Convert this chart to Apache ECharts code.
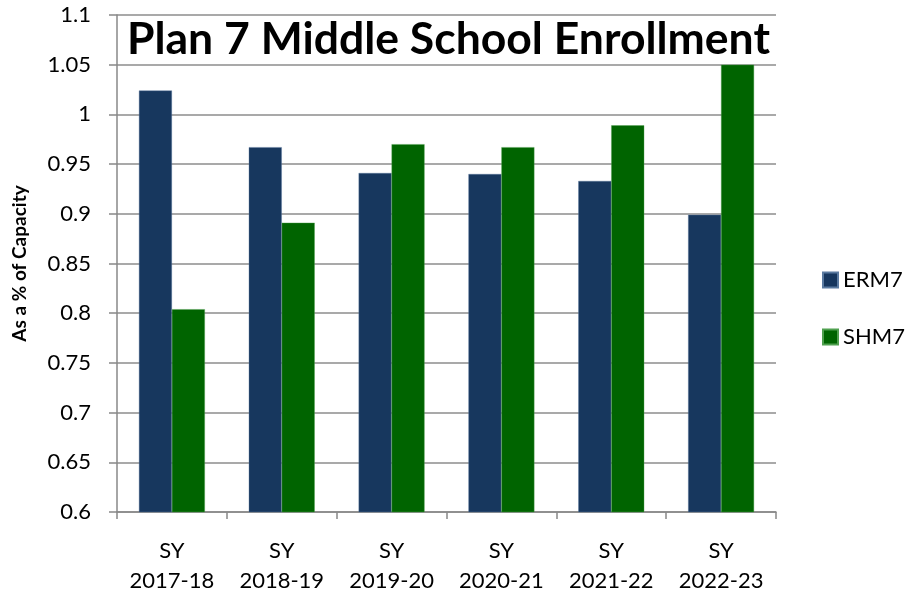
<!DOCTYPE html>
<html><head><meta charset="utf-8">
<script src="https://cdn.jsdelivr.net/npm/echarts@6/dist/echarts.min.js"></script>
<style>html,body{margin:0;padding:0;background:#fff}#c{width:906px;height:596px}</style>
</head><body><div id="c"></div>
<script>
const categories = ['SY\n2017-18','SY\n2018-19','SY\n2019-20','SY\n2020-21','SY\n2021-22','SY\n2022-23'];
const erm7 = [1.024, 0.967, 0.941, 0.940, 0.933, 0.899];
const shm7 = [0.804, 0.891, 0.970, 0.967, 0.989, 1.050];
const yTicks = { min: 0.6, max: 1.1, step: 0.05 };

const FONT = 'Lato, "Open Sans", sans-serif';
const chart = echarts.init(document.getElementById('c'));
chart.setOption({
  animation: false,
  backgroundColor: '#fff',
  title: {
    text: 'Plan 7 Middle School Enrollment',
    left: 127, top: 16,
    padding: 0,
    textStyle: { fontFamily: FONT, fontWeight: 'bold', fontSize: 44.5, color: '#000', lineHeight: 48 }
  },
  legend: {
    orient: 'vertical', left: 817, top: 264,
    icon: 'rect',
    itemWidth: 15, itemHeight: 15, itemGap: 35,
    textStyle: { fontFamily: FONT, fontSize: 22, color: '#000' },
    data: ['ERM7', 'SHM7']
  },
  grid: { left: 117, right: 130, top: 15, bottom: 81, containLabel: false },
  xAxis: {
    type: 'category', data: categories,
    axisLine: { lineStyle: { color: '#888', width: 1.5 } },
    axisTick: { show: true, interval: 0, length: 7, lineStyle: { color: '#888', width: 1.5 } },
    axisLabel: { interval: 0, fontFamily: FONT, fontSize: 22, color: '#000', lineHeight: 30, margin: 24 }
  },
  yAxis: {
    type: 'value', min: yTicks.min, max: yTicks.max, interval: yTicks.step,
    name: 'As a % of Capacity', nameLocation: 'middle', nameGap: 88,
    nameTextStyle: { fontFamily: FONT, fontWeight: 'bold', fontSize: 19, color: '#000' },
    axisLine: { show: true, lineStyle: { color: '#888', width: 1.5 } },
    axisTick: { show: true, length: 8, lineStyle: { color: '#888', width: 1.5 } },
    splitLine: { lineStyle: { color: '#8c8c8c', width: 1.5 } },
    axisLabel: { fontFamily: FONT, fontSize: 22, color: '#000', margin: 26,
      formatter: v => String(+v.toFixed(2)) }
  },
  series: [
    { name: 'ERM7', type: 'bar', data: erm7, barGap: '0%', barCategoryGap: '40%',
      itemStyle: { color: '#17375e', borderColor: '#5a7aa0', borderWidth: 0.4 } },
    { name: 'SHM7', type: 'bar', data: shm7,
      itemStyle: { color: '#006400', borderColor: '#4fa04f', borderWidth: 0.4 } }
  ]
});
</script></body></html>
